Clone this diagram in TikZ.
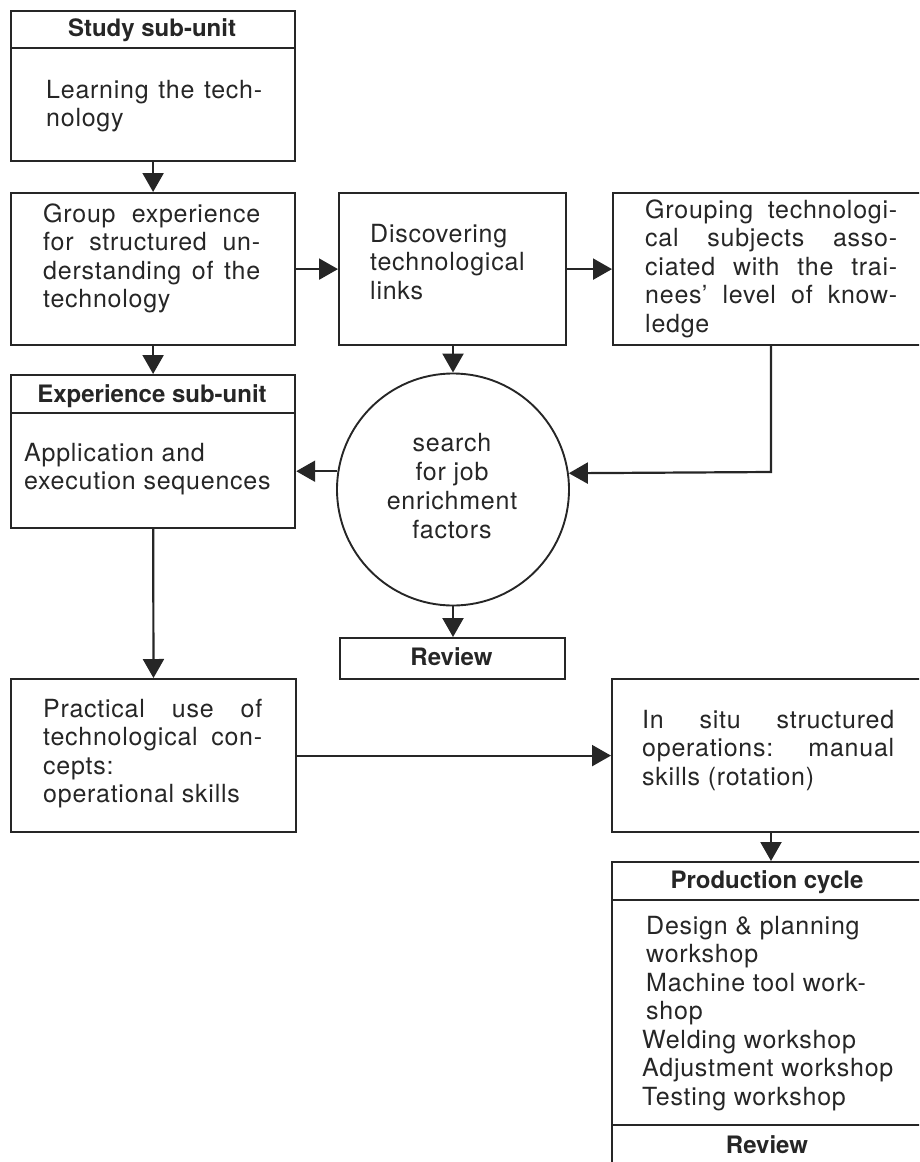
\documentclass[tikz,border=0pt]{standalone}
\usepackage{fontspec}
\setmainfont{TeX Gyre Heros}[LetterSpace=3]
\newfontfamily\headfont{TeX Gyre Heros}
\usetikzlibrary{arrows.meta}
\definecolor{ink}{HTML}{262626}
\tikzset{
  box/.style={draw=ink, line width=2.2pt, rectangle, inner sep=0pt, anchor=north west},
  txt/.style={text=ink, font=\fontsize{25}{28.5}\selectfont, align=left, inner sep=0pt, anchor=north west},
  ctxt/.style={text=ink, font=\fontsize{25}{29}\selectfont, align=center, inner sep=0pt, anchor=north},
  head/.style={text=ink, font=\headfont\bfseries\fontsize{24}{28}\selectfont, inner sep=0pt, anchor=base},
  arr/.style={draw=ink, line width=2.2pt, -{Triangle[width=21pt,length=19pt]}},
  ln/.style={draw=ink, line width=2.2pt},
}
\begin{document}
\begin{tikzpicture}[x=1pt,y=-1pt]
\useasboundingbox (0,0) rectangle (919,1162);
\clip (0,0) rectangle (919,1162);

% boxes
\node[box, minimum width=284pt, minimum height=150pt] (study) at (10,10) {};
\node[box, minimum width=284pt, minimum height=152pt] (group) at (10,192) {};
\node[box, minimum width=227pt, minimum height=152pt] (disc) at (338,192) {};
\node[box, minimum width=313pt, minimum height=152pt] (grouping) at (612,192) {};
\node[box, minimum width=284pt, minimum height=153pt] (exper) at (10,374) {};
\node[draw=ink, line width=1.9pt, circle, minimum size=232pt, inner sep=0pt] (circ) at (453,489.5) {};
\node[box, minimum width=225pt, minimum height=41pt] (rev) at (339,637) {};
\node[box, minimum width=285pt, minimum height=153pt] (prac) at (10,678) {};
\node[box, minimum width=314pt, minimum height=153pt] (insitu) at (611,678) {};
\node[box, minimum width=314pt, minimum height=320pt] (prod) at (611,861) {};

% header dividers
\draw[ln] ([yshift=-38pt]study.north west) -- ([yshift=-38pt]study.north east);
\draw[ln] ([yshift=-39pt]exper.north west) -- ([yshift=-39pt]exper.north east);
\draw[ln] ([yshift=-39pt]prod.north west) -- ([yshift=-39pt]prod.north east);
\draw[ln] ([yshift=-264pt]prod.north west) -- ([yshift=-264pt]prod.north east);

% headers
\node[head] (studyh) at (152,36.5) {Study sub-unit};
\node[head] (experh) at (152,402) {Experience sub-unit};
\node[head] (revh) at (451.5,665) {Review};
\node[head] (prodh) at (767,888) {Production cycle};
\node[head] (prodr) at (767,1153) {Review};

% texts
\node[txt] (studyt) at (46,78) {\strut\makebox[216pt][s]{Learning the tech-}\\nology};
\node[txt] (groupt) at (43,202) {\strut\makebox[217pt][s]{Group experience}\\
  \makebox[217pt][s]{for structured un-}\\
  \makebox[217pt][s]{derstanding of the}\\technology};
\node[txt] (disct) at (370,222) {\strut Discovering\\technological\\links};
\node[txt] (groupingt) at (645,198) {\strut\makebox[252pt][s]{Grouping technologi-}\\
  \makebox[252pt][s]{cal subjects asso-}\\
  \makebox[252pt][s]{ciated with the trai-}\\
  \makebox[252pt][s]{nees’ level of know-}\\ledge};
\node[txt] (expert) at (24,441) {\strut Application and\\execution sequences};
\node[ctxt] (circt) at (452,431) {\strut search\\for job\\enrichment\\factors};
\node[txt] (pract) at (43,697) {\strut\makebox[219pt][s]{Practical use of}\\
  \makebox[219pt][s]{technological con-}\\cepts:\\operational skills};
\node[txt] (insitut) at (642,708) {\strut\makebox[252pt][s]{In situ structured}\\
  \makebox[252pt][s]{operations: manual}\\skills (rotation)};
\node[txt] (prodt) at (642,914) {\strut\hspace*{4pt}Design \& planning\\
  \hspace*{4pt}workshop\\\hspace*{4pt}Machine tool work-\\\hspace*{4pt}shop\\
  Welding workshop\\Adjustment workshop\\Testing workshop};

% connectors
\coordinate (colR) at (771,472);
\draw[arr] (study) -- (group);
\draw[arr] (group) -- (exper);
\draw[arr] (exper) -- (prac);
\draw[arr] (group) -- (disc);
\draw[arr] (disc) -- (grouping);
\draw[arr] (disc.south -| circ.north) -- (circ.north);
\draw[arr] (grouping.south -| colR) -- (colR) -- (circ.8.7);
\draw[arr] (circ.171.3) -- (exper.east |- circ.171.3);
\draw[arr] (circ.south) -- (rev.north -| circ.south);
\draw[arr] (prac) -- (insitu.west |- prac.east);
\draw[arr] (insitu.south -| colR) -- (prod.north -| colR);
\end{tikzpicture}
\end{document}
